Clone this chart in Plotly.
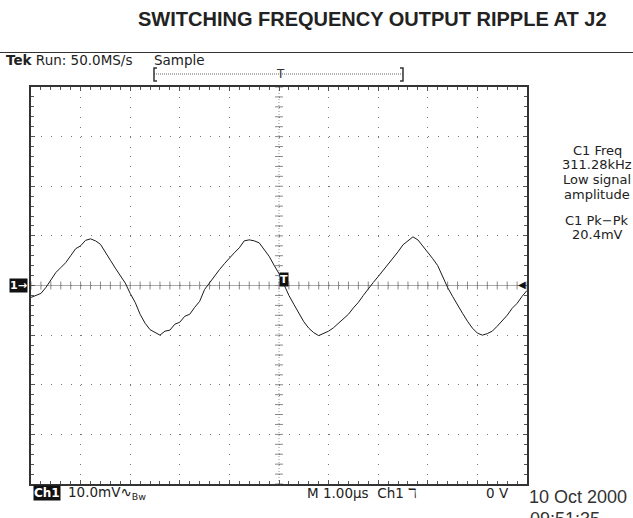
import plotly.graph_objects as go

# ---- data (time in microseconds, Ch1 in mV) ----
time_us = [-5.0, -4.9, -4.8, -4.7, -4.6, -4.5, -4.4, -4.3, -4.2, -4.1,
           -4.0, -3.9, -3.8, -3.7, -3.6, -3.5, -3.4, -3.3, -3.2, -3.1,
           -3.0, -2.9, -2.8, -2.7, -2.6, -2.5, -2.4, -2.3, -2.2, -2.1,
           -2.0, -1.9, -1.8, -1.7, -1.6, -1.5, -1.4, -1.3, -1.2, -1.1,
           -1.0, -0.9, -0.8, -0.7, -0.6, -0.5, -0.4, -0.3, -0.2, -0.1,
           0.0, 0.1, 0.2, 0.3, 0.4, 0.5, 0.6, 0.7, 0.8, 0.9,
           1.0, 1.1, 1.2, 1.3, 1.4, 1.5, 1.6, 1.7, 1.8, 1.9,
           2.0, 2.1, 2.2, 2.3, 2.4, 2.5, 2.6, 2.7, 2.8, 2.9,
           3.0, 3.1, 3.2, 3.3, 3.4, 3.5, 3.6, 3.7, 3.8, 3.9,
           4.0, 4.1, 4.2, 4.3, 4.4, 4.5, 4.6, 4.7, 4.8, 4.9, 5.0]
ch1_mv = [-2.4, -2.0, -1.6, -0.4, 1.0, 2.6, 3.6, 4.6, 6.0, 7.4,
          8.0, 9.1, 9.4, 9.0, 8.3, 6.8, 5.1, 3.5, 2.0, 0.5,
          -1.6, -3.4, -5.8, -7.6, -8.9, -9.5, -10.0, -9.2, -9.0, -7.8,
          -7.4, -6.2, -5.8, -4.4, -3.2, -0.8, 0.6, 1.8, 3.2, 4.4,
          5.6, 6.6, 7.6, 9.0, 9.2, 9.0, 8.6, 7.3, 5.9, 4.1,
          2.4, 0.2, -2.0, -3.8, -5.6, -7.3, -8.6, -9.5, -10.1, -9.6,
          -9.2, -8.5, -7.6, -6.7, -5.8, -4.5, -3.4, -2.0, -0.6, 0.6,
          1.8, 3.0, 4.2, 5.6, 6.8, 8.2, 9.0, 9.8, 9.2, 8.0,
          6.6, 5.4, 4.0, 1.8, -0.4, -2.2, -4.0, -5.6, -7.2, -8.6,
          -9.6, -10.0, -9.7, -9.2, -8.2, -7.2, -6.0, -4.6, -3.6, -2.2, -1.0]

title_text = "SWITCHING FREQUENCY OUTPUT RIPPLE AT J2"
header_text = "<b>Tek</b> Run: 50.0MS/s     Sample"
meas_freq = ["C1 Freq", "311.28kHz", "Low signal", "amplitude"]
meas_pkpk = ["C1 Pk\u2212Pk", "20.4mV"]
ch_scale = "10.0mV\u223f<sub>Bw</sub>"
time_scale = "M 1.00\u00b5s  Ch1 \u2138"
trig_level = "0 V"
date_text = "10 Oct 2000"
time_text = "09:51:35"

# ---- geometry ----
W, H = 633, 518
L, R, T, B = 31, 527, 87, 484
XMIN, XMAX = -5, 5
YMIN, YMAX = -40, 40


def px(xp):
    return (xp - L) / (R - L)


def py(yp):
    return (B - yp) / (B - T)


fig = go.Figure()
fig.add_trace(go.Scatter(x=time_us, y=ch1_mv, mode="lines",
                         line=dict(color="#1a1a1a", width=1),
                         hoverinfo="skip"))

axis_common = dict(showline=True, linecolor="#333", linewidth=1.5, mirror="ticks",
                   ticks="inside", ticklen=4, tickcolor="#555", tickwidth=1,
                   showticklabels=False, zeroline=False,
                   showgrid=True, gridcolor="#777", gridwidth=1,
                   griddash="1px,8.92px")
fig.update_xaxes(range=[XMIN, XMAX], dtick=1, tick0=0,
                 minor=dict(dtick=0.2, ticks="inside", ticklen=3, tickcolor="#555", showgrid=False),
                 **axis_common)
fig.update_yaxes(range=[YMIN, YMAX], dtick=10, tick0=0,
                 minor=dict(dtick=2, ticks="inside", ticklen=3, tickcolor="#555", showgrid=False),
                 **axis_common)

shapes = []
# centre cross lines
shapes.append(dict(type="line", xref="x", yref="y", x0=0, x1=0, y0=YMIN, y1=YMAX,
                   line=dict(color="#999", width=1, dash="1px,2px"), layer="below"))
shapes.append(dict(type="line", xref="x", yref="y", x0=XMIN, x1=XMAX, y0=0, y1=0,
                   line=dict(color="#aaa", width=1), layer="below"))
# centre cross tick marks
for i in range(-25, 26):
    t = i * 0.2
    shapes.append(dict(type="line", xref="x", yref="y", x0=t, x1=t, y0=-0.8, y1=0.8,
                       line=dict(color="#888", width=1), layer="below"))
for i in range(-20, 21):
    v = i * 2
    shapes.append(dict(type="line", xref="x", yref="y", x0=-0.08, x1=0.08, y0=v, y1=v,
                       line=dict(color="#888", width=1), layer="below"))
# header rule
shapes.append(dict(type="line", xref="paper", yref="paper", x0=px(0), x1=px(W),
                   y0=py(52.5), y1=py(52.5), line=dict(color="#333", width=1)))
# record window indicator
shapes.append(dict(type="line", xref="paper", yref="paper", x0=px(154), x1=px(403),
                   y0=py(74), y1=py(74), line=dict(color="#666", width=1, dash="1px,1px")))
for xb, d in ((154, 3), (403, -3)):
    shapes.append(dict(type="path", xref="paper", yref="paper",
                       path="M {0},{1} L {2},{1} L {2},{3} L {0},{3}".format(
                           px(xb + d), py(68), px(xb), py(81)),
                       line=dict(color="#333", width=1.5)))
fig.update_layout(shapes=shapes)

tek_font = "DejaVu Sans"
ann = []


def add(text, x, y, size=13, color="#222", xanchor="left", yanchor="middle", family=tek_font, **kw):
    ann.append(dict(text=text, x=px(x), y=py(y), xref="paper", yref="paper",
                    showarrow=False, xanchor=xanchor, yanchor=yanchor,
                    font=dict(family=family, size=size, color=color), **kw))


add("<b>" + title_text + "</b>", 372, 19, size=20, color="#222", xanchor="center",
    family="Liberation Sans, Arial")
add(header_text, 4, 60, size=13.5)
add("T", 280, 74, size=12, color="#333", xanchor="center")
for i, s in enumerate(meas_freq):
    add(s, 597, 150 + i * 14.7, size=13, xanchor="center")
for i, s in enumerate(meas_pkpk):
    add(s, 597, 220 + i * 14.7, size=13, xanchor="center")
add("<b>Ch1</b>", 33, 493, size=12, color="white", bgcolor="#111", borderpad=0)
add(ch_scale, 66, 493, size=13.5)
add(time_scale, 305, 493, size=13.5)
add(trig_level, 511, 493, size=13.5, xanchor="right")
add(date_text, 527, 497, size=18, color="#333", family="Liberation Sans, Arial")
add(time_text, 528, 519, size=18, color="#333", family="Liberation Sans, Arial")
# channel marker, trigger point, trigger level
add("<b>1\u2192</b>", 18, 285, size=11, color="white", xanchor="center", bgcolor="#111", borderpad=0)
add("<b>T</b>", 284, 279.5, size=11, color="white", xanchor="center", bgcolor="#111", borderpad=0)
add("\u25c0", 522, 284, size=10, color="#111", xanchor="center")
fig.update_layout(annotations=ann)

fig.update_layout(width=W, height=H, margin=dict(l=L, r=W - R, t=T, b=H - B),
                  paper_bgcolor="white", plot_bgcolor="white", showlegend=False)

fig.write_html("out.html", config={"displayModeBar": False},
               post_script="document.body.style.margin='0';document.body.style.overflow='hidden';")
